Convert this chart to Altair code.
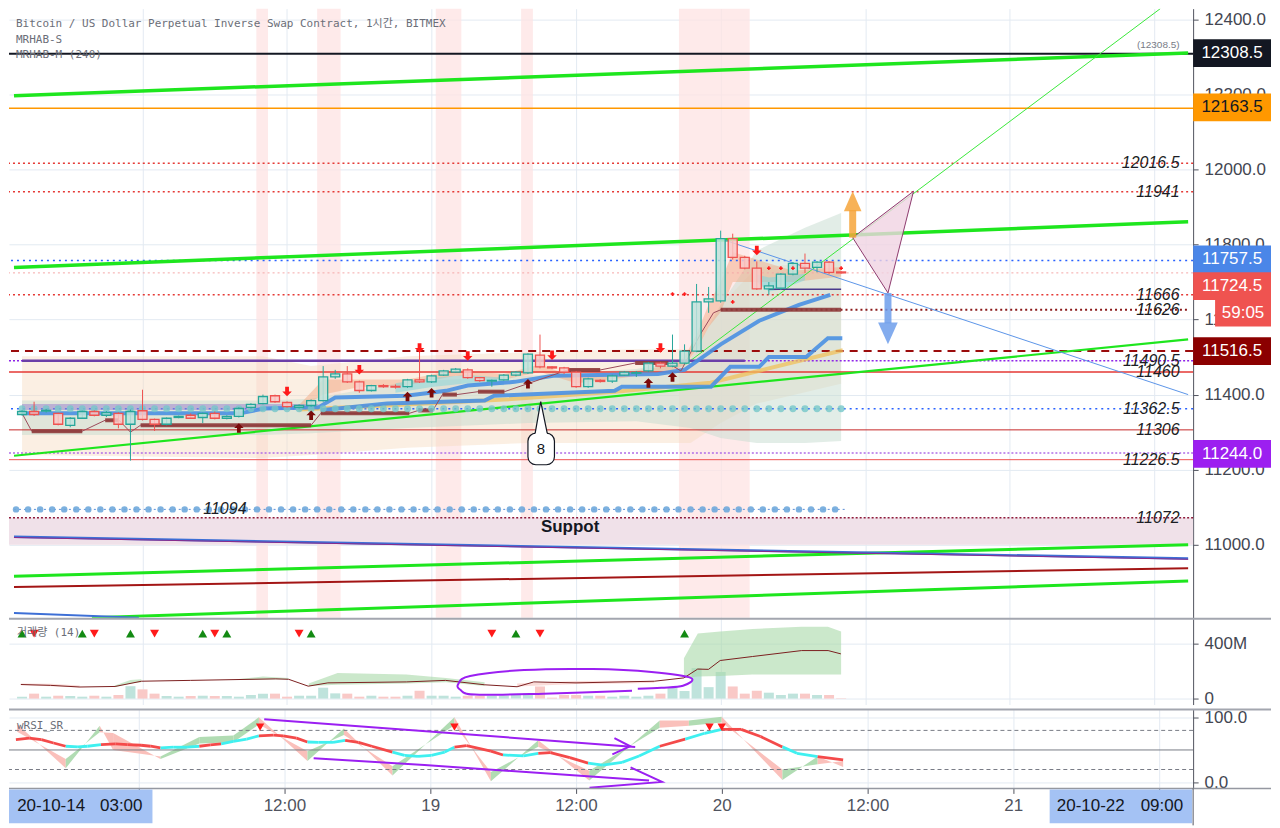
import altair as alt
import pandas as pd

# ---------------- layout ----------------
W = 1186
H_MAIN, H_VOL, H_RSI = 610, 86, 79
TAG_W = 78
T_DOM = [-10.67, 86.81]          # hours since 18 Oct 00:00
P_DOM = [10805.3, 12428.9]
V_DOM = [-43, 579]               # volume in millions
R_DOM = [-9, 112]
XT = [0, 12, 24, 36, 48, 60, 72, 84]

FONT = 'Liberation Sans'
MONO = 'DejaVu Sans Mono, Noto Sans CJK KR'
GRID = '#e3eaf2'
AXC = '#50535e'
TEAL, RED = '#26a69a', '#ef5350'
LIME = '#1ee61e'
PURPLE = '#9b1ff2'
ARROW_UP = 'M0,-1L1,0L0.4,0L0.4,1L-0.4,1L-0.4,0L-1,0Z'
ARROW_DN = 'M0,1L1,0L0.4,0L0.4,-1L-0.4,-1L-0.4,0L-1,0Z'

# ---------------- candles (1h) ----------------
T = list(range(-10, 59))
O = [11347, 11355, 11356, 11350, 11318, 11337, 11355, 11345, 11350, 11321,
     11357, 11334, 11321, 11339, 11345, 11339, 11350, 11337, 11342, 11366,
     11376, 11397, 11379, 11366, 11371, 11384, 11447, 11455, 11434, 11411,
     11424, 11422, 11421, 11439, 11434, 11452, 11460, 11466, 11445, 11436,
     11439, 11452, 11458, 11505, 11474, 11471, 11460, 11421, 11438, 11436,
     11452, 11457, 11463, 11484, 11476, 11484, 11516, 11647, 11650, 11816,
     11766, 11737, 11682, 11684, 11721, 11750, 11739, 11753, 11727]
HI = [11358, 11381, 11362, 11352, 11340, 11357, 11358, 11356, 11353, 11360,
      11413, 11336, 11339, 11344, 11350, 11352, 11355, 11345, 11366, 11377,
      11400, 11400, 11382, 11374, 11387, 11476, 11466, 11476, 11437, 11426,
      11428, 11427, 11442, 11521, 11453, 11466, 11471, 11470, 11447, 11440,
      11455, 11463, 11510, 11560, 11476, 11474, 11463, 11445, 11441, 11453,
      11463, 11463, 11487, 11487, 11560, 11534, 11695, 11687, 11837, 11829,
      11770, 11755, 11700, 11724, 11753, 11776, 11756, 11756, 11729]
LO = [11344, 11343, 11352, 11318, 11313, 11335, 11342, 11340, 11310, 11224,
      11331, 11303, 11318, 11337, 11335, 11324, 11334, 11334, 11339, 11363,
      11374, 11378, 11365, 11363, 11368, 11381, 11442, 11431, 11405, 11408,
      11418, 11416, 11418, 11431, 11431, 11450, 11458, 11442, 11434, 11421,
      11437, 11449, 11455, 11470, 11468, 11455, 11418, 11418, 11432, 11431,
      11450, 11447, 11460, 11470, 11473, 11481, 11513, 11618, 11645, 11760,
      11734, 11679, 11666, 11679, 11718, 11724, 11726, 11721, 11722]
C = [11355, 11347, 11358, 11321, 11337, 11355, 11345, 11352, 11321, 11355,
     11334, 11321, 11337, 11342, 11337, 11350, 11337, 11342, 11363, 11374,
     11395, 11381, 11368, 11371, 11384, 11447, 11455, 11434, 11411, 11424,
     11421, 11420, 11439, 11434, 11450, 11463, 11468, 11445, 11437, 11438,
     11452, 11460, 11508, 11474, 11471, 11460, 11421, 11442, 11435, 11450,
     11460, 11459, 11484, 11476, 11484, 11516, 11647, 11655, 11816, 11766,
     11737, 11682, 11690, 11721, 11750, 11737, 11753, 11726, 11724.5]
VOL = [14, 36, 14, 21, 19, 14, 21, 14, 26, 90,
       67, 36, 19, 14, 19, 21, 19, 19, 14, 26,
       36, 36, 14, 21, 21, 79, 38, 36, 14, 21,
       14, 14, 21, 57, 21, 21, 14, 21, 21, 21,
       21, 26, 38, 88, 7, 26, 26, 21, 21, 14,
       21, 14, 21, 36, 79, 55, 221, 83, 193, 88,
       36, 57, 43, 26, 36, 36, 26, 26, 3]
DIRS = ['up' if c >= o else 'down' for o, c in zip(O, C)]

# ---------------- price levels ----------------
LEVELS = [
    (12308.5, '#131722', 2, None),
    (12163.5, '#ff9800', 1.5, None),
    (12016.5, '#e53935', 1.5, [2, 3]),
    (11941, '#e53935', 1.5, [2, 3]),
    (11757.5, '#2962ff', 1.5, [2, 4]),
    (11724.5, '#f4a6a6', 1, [2, 3]),
    (11666, '#e53935', 1.5, [2, 3]),
    (11516.5, '#9b0c0c', 2, [8, 6]),
    (11490.5, '#8e24e8', 1.5, [2, 2]),
    (11460, '#e53935', 1.5, None),
    (11362.5, '#2962ff', 1.5, [2, 4]),
    (11306, '#c62828', 1, None),
    (11244, '#b06ee8', 1.5, [2, 2]),
    (11226.5, '#ef5350', 1, None),
    (11072, '#8e1a3a', 1.5, [2, 2]),
]
RANGED = [  # price, t0, t1, colour, width, dash
    (11626, 48.0, 86.81, '#8b1a1a', 2, [2, 3]),
    (11094, -10.67, 58.3, '#5b8fd6', 1, [2, 3]),
]
LEVEL_LAB = ['12016.5', '11941', '11666', '11626', '11490.5', '11460',
             '11362.5', '11306', '11226.5', '11072']
LEVEL_LAB_P = [12016.5, 11941, 11666, 11626, 11490.5, 11460,
               11362.5, 11306, 11226.5, 11072]

# trend lines: (t list, price list, colour, width)
SLOPES = [
    ([-10.67, 86.81], [12197, 12310.5], LIME, 3.5),
    ([-10.67, 86.81], [11739, 11860.5], LIME, 3.5),
    ([-10.67, 86.81], [11237, 11547], LIME, 2.2),
    ([45.1, 84.5], [11481, 12428.9], '#3be83b', 1),
    ([-10.67, 86.81], [10916, 11000], LIME, 3),
    ([-4.2, 86.81], [10805.3, 10903], LIME, 3),
    ([-10.67, 86.81], [10887, 10937], '#a31515', 2),
    ([-10.67, 86.81], [11021, 10963], '#3d6fd6', 2.5),
    ([-10.67, 86.81], [11019, 10961], '#8b2a8b', 1),
    ([-10.67, -0.3], [10818, 10805.3], '#3d6fd6', 2),
    ([47.96, 86.81], [11815.7, 11400], '#5b95e8', 1),
]

# shaded bands (hours)
BAND_T0 = [9.45, 14.5, 24.35, 31.43, 44.54]
BAND_T1 = [10.42, 16.45, 26.47, 32.41, 50.41]

# clouds: t, upper, lower, colour, opacity
CLOUDS = [
    ([-10, 10, 14, 22, 32, 41, 45.5, 48, 51, 58],
     [11502, 11502, 11476, 11502, 11513, 11521, 11521, 11639, 11739, 11758],
     [11239, 11231, 11239, 11258, 11271, 11271, 11271, 11324, 11376, 11429],
     '#f6dcc0', 0.45),
    ([-10, 10, 14, 22, 32, 41, 45.5, 48, 51, 55, 58],
     [11384, 11384, 11389, 11434, 11450, 11468, 11495, 11639, 11784, 11845, 11884],
     [11292, 11292, 11297, 11311, 11324, 11329, 11311, 11284, 11271, 11271, 11276],
     '#c5dccf', 0.5),
    ([13, 15, 18, 22, 26, 30, 33, 36, 40, 44, 45, 46, 47, 48, 49, 51, 54, 58],
     [11372, 11440, 11440, 11440, 11466, 11455, 11480, 11445, 11458, 11480, 11500,
      11560, 11640, 11700, 11780, 11760, 11730, 11740],
     [11360, 11400, 11420, 11425, 11450, 11440, 11460, 11430, 11445, 11465, 11478,
      11520, 11580, 11620, 11700, 11700, 11700, 11715],
     '#f2a57c', 0.45),
    ([21, 24, 27, 30], [11430, 11445, 11452, 11445], [11405, 11420, 11430, 11425],
     '#7fd6dc', 0.5),
    ([51, 52, 53, 55], [11720, 11712, 11715, 11722], [11700, 11675, 11680, 11705],
     '#7fd6dc', 0.55),
]

# moving lines
MA_T = [-10.0, 8.1, 10.1, 14.6, 16.0, 21.9, 25.2, 27.0, 30.9, 34.1, 42.8, 45.0,
        48.0, 51.2, 54.5, 57.1]
MA_P = [11350, 11350, 11363, 11366, 11392, 11397, 11410, 11424, 11434, 11450,
        11455, 11466, 11534, 11597, 11639, 11666]
STEP_T = [14.8, 20.3, 28.4, 29.2, 39.2, 39.8, 47.2, 48.8, 51.2, 52.0, 55.1, 56.9, 58.1]
STEP_P = [11358, 11376, 11384, 11397, 11410, 11421, 11421, 11474, 11474, 11500,
          11500, 11550, 11550]
YEL_T = [12.95, 20.3, 30.05, 39.25, 47.15, 58.14]
YEL_P = [11360.5, 11371, 11386.8, 11407.8, 11431.6, 11518.4]
MR_T = [-10, -9.2, -5.0, -3.1, -1.95, -1.0, -0.16, 14.0, 14.8, 22.15, 22.9, 24.1,
        24.9, 26.1, 27.85, 30.05, 35.3, 38.0, 40.9, 43.65, 44.7, 46.3, 47.4, 48.0]
MR_P = [11350, 11302.6, 11302.6, 11331.6, 11331.6, 11300, 11318.4, 11318.4, 11350,
        11350, 11357.8, 11357.8, 11400, 11400, 11407.8, 11407.8, 11465.7, 11465.7,
        11484.2, 11484.2, 11463, 11560, 11618, 11626]
MR_SEG = [(-9.2, -5.0, 11302.6), (-3.1, -1.95, 11331.6), (-0.16, 14.0, 11318.4),
          (14.8, 22.15, 11350), (22.9, 24.1, 11357.8), (24.9, 26.1, 11400),
          (27.85, 30.05, 11407.8), (35.3, 38.0, 11465.7), (40.9, 43.65, 11484.2),
          (48.0, 58.0, 11626)]

UP_T = [8, 14, 22, 24, 32, 42, 44]
UP_P = [11311, 11345, 11395, 11405, 11429, 11431, 11447]
DN_T = [12, 18, 23, 27, 34, 43, 51]
DN_P = [11408, 11466, 11524, 11503, 11505, 11524, 11784]
CR_T = [44, 45, 49, 52, 53, 54, 58]
CR_P = [11668, 11668, 11647, 11737, 11737, 11737, 11737]

TAG_LAB = ['12308.5', '12163.5', '11757.5', '11724.5', '11516.5', '11244.0']
TAG_P = [12310.5, 12165.7, 11760.5, 11689.4, 11515.7, 11242]
TAG_COL = ['#131722', '#ff9800', '#4a86e8', '#ef5350', '#8b0000', '#9c1ff0']
TAG_TXT = ['white', '#131722', 'white', 'white', 'white', 'white']
TAG_HALF = 37

# ---------------- volume panel ----------------
VMA_T = [-10.1, -7.65, -5.2, -2.28, -0.08, 4.0, 11.07, 12.13, 13.76, 15.39, 21.9,
         25.16, 28.42, 31.1, 32.49, 35.99, 42.5, 44.95, 46.09, 46.99, 47.96, 50.65,
         54.72, 56.92, 57.98]
VMA_V = [102, 96, 84, 88, 126, 132, 143, 140, 90, 114, 121, 132, 100, 86, 121, 114,
         126, 150, 214, 212, 276, 305, 348, 348, 324]
VBANDS = [
    ([-2.3, -1, -0.1], [95, 135, 140], [82, 110, 118], '#a8d8a8'),
    ([7.8, 10, 12.1], [140, 160, 150], [135, 138, 140], '#a8d8a8'),
    ([13.8, 16.2, 21.9, 25.2, 28.4], [110, 186, 175, 150, 118], [92, 100, 110, 118, 92], '#a8d8a8'),
    ([44.95, 46.1, 47.96, 50.65, 54.7, 56.9, 58.0], [293, 471, 486, 505, 521, 521, 486],
     [150, 160, 164, 174, 174, 174, 174], '#a8d8a8'),
    ([-10.1, -7.6, -5.2], [110, 108, 95], [98, 90, 80], '#f7c4c0'),
    ([31.1, 35.99, 40, 42.5], [110, 128, 130, 128], [88, 105, 110, 115], '#f7c4c0'),
]
VUP_T = [-10, -5, -1, 5, 7, 14, 31, 45]
VDN_T = [-9, -4, 1, 6, 13, 29, 33]
LOOP_T = [40.64, 33.31, 27.61, 26.38, 26.22, 27.2, 31.68, 37.38, 42.26, 45.52, 44.87,
          43.08, 41.12]
LOOP_V = [57, 36, 29, 64, 107, 164, 207, 214, 193, 150, 93, 79, 71]

# ---------------- RSI panel ----------------
RSI_T = [-10.1, -9.0, -8.0, -7.0, -6.0, -5.0, -4.2, -3.1, -1.9, -0.9, 0.2, 1.0, 1.8,
         2.9, 4.0, 5.0, 5.9, 6.8, 7.8, 8.9, 9.9, 11.1, 11.9, 13.0, 13.9, 14.8, 16.0,
         17.0, 18.1, 19.2, 20.9, 21.9, 23.0, 24.1, 25.2, 26.0, 27.0, 29.0, 30.0,
         31.7, 32.9, 33.9, 35.5, 37.0, 38.2, 39.8, 41.2, 42.9, 45.0, 46.6, 48.0,
         49.6, 51.2, 53.0, 54.2, 55.9, 58.0]
RSI_V = [65.7, 68.2, 65.7, 60.7, 55.7, 54.7, 55.7, 58.2, 59.2, 58.2, 57.2, 55.7, 53.2,
         54.2, 54.2, 55.7, 57.7, 59.2, 63.2, 66.7, 71.6, 72.6, 71.6, 68.2, 62.2, 61.7,
         61.7, 64.7, 61.7, 55.7, 46.8, 41.8, 40.3, 41.8, 46.8, 54.2, 56.7, 48.2, 42.3,
         40.8, 44.8, 45.8, 38.3, 29.9, 26.9, 30.9, 40.8, 55.7, 66.7, 75.6, 81.6, 81.6,
         70.6, 54.7, 44.8, 39.8, 34.8]
RSI_C = 'rrrrcccrrrrrcccrrcccrrrrcccrrrcccccrrrccrrrccccrccrrrccr'
RIB_T = [-10.0, -6.0, -3.2, -2.1, 1.8, 5.0, 7.8, 9.9, 13.9, 16.9, 20.9, 26.0, 29.0,
         32.9, 37.1, 42.9, 45.3, 48.0, 53.0, 55.9, 58.0]
RIB_F = [90, 22, 87, 50, 40, 70, 72, 100, 33, 83, 11, 100, 2, 65, 3, 95, 95, 101, 4, 40, 24]
RIB_S = [78, 36, 77, 76, 36, 60, 62, 89, 48, 73, 25, 88, 16, 55, 18, 84, 87, 92, 20, 28, 33]
RSI_TRI_T = [10, 26, 47, 48]
PEN = [  # hand drawn purple strokes
    ([10.34, 40.88], [97.0, 54.7]),
    ([39.17, 40.47, 39.0], [68.2, 55.7, 43.3]),
    ([14.41, 23.53, 42.02], [37.3, 26.9, 3.0]),
    ([40.5, 43.08, 37.12], [23.4, 1.0, -8.0]),
]


# ---------------- helpers ----------------
AX_GRID = alt.Axis(values=XT, labels=False, ticks=False, domain=False, grid=True,
                   gridColor=GRID, title=None)
AX_TIME = alt.Axis(values=XT, grid=True, gridColor=GRID, domain=False, tickSize=5,
                   tickColor=AXC, labelFontSize=17, labelFont=FONT, labelColor=AXC,
                   labelPadding=4, title=None, labelFlush=False,
                   labelExpr="datum.value == 24 ? '19' : datum.value == 48 ? '20' : "
                             "datum.value == 72 ? '21' : (datum.value == 0 || datum.value == 84) ? '' : '12:00'")


def yaxis(values, **kw):
    return alt.Axis(orient='right', values=values, title=None, grid=True, gridColor=GRID,
                    domainColor=AXC, tickColor=AXC, tickSize=5, labelFont=FONT,
                    labelFontSize=17, labelColor='#434651', labelPadding=6,
                    labelOverlap=False, labelFlush=False, **kw)


AX_P = yaxis([11000 + 200 * k for k in range(8)], format='.1f')
AX_V = yaxis([0, 400], labelExpr="datum.value == 0 ? '0' : '400M'")
AX_R = yaxis([0, 100], format='.1f')


def enc(dom, yax, xax):
    def fx(f):
        return alt.X(f + ':Q', scale=alt.Scale(domain=T_DOM, nice=False, zero=False), axis=xax)

    def fy(f):
        return alt.Y(f + ':Q', scale=alt.Scale(domain=dom, nice=False, zero=False), axis=yax)
    return fx, fy


def line(ts, ps, fx, fy, **kw):
    d = pd.DataFrame({'t': ts, 'p': ps, 'k': range(len(ts))})
    return alt.Chart(d).mark_line(**kw).encode(x=fx('t'), y=fy('p'), order='k:Q')


# ================= main price panel =================
mx, my = enc(P_DOM, AX_P, AX_GRID)
main = []
main.append(alt.Chart(pd.DataFrame({'t0': BAND_T0, 't1': BAND_T1})).mark_rect(
    color='#fde3e3', opacity=0.75).encode(x=mx('t0'), x2='t1', y=alt.value(0), y2=alt.value(H_MAIN)))
main.append(alt.Chart(pd.DataFrame({'lo': [11000], 'hi': [11072]})).mark_rect(
    color='#f0e1e9').encode(x=alt.value(0), x2=alt.value(W), y=my('lo'), y2='hi'))
for ts, up, lo, col, op in CLOUDS:
    main.append(alt.Chart(pd.DataFrame({'t': ts, 'u': up, 'l': lo})).mark_area(
        color=col, opacity=op).encode(x=mx('t'), y=my('u'), y2='l'))
for p, col, w, dash in LEVELS:
    kw = dict(color=col, strokeWidth=w)
    if dash:
        kw['strokeDash'] = dash
    main.append(alt.Chart(pd.DataFrame({'p': [p]})).mark_rule(**kw).encode(y=my('p')))
for p, t0, t1, col, w, dash in RANGED:
    main.append(alt.Chart(pd.DataFrame({'p': [p], 't0': [t0], 't1': [t1]})).mark_rule(
        color=col, strokeWidth=w, strokeDash=dash).encode(x=mx('t0'), x2='t1', y=my('p')))
for ts, ps, col, w in SLOPES:
    main.append(line(ts, ps, mx, my, color=col, strokeWidth=w, clip=True))

# MRHAB lines
main.append(line([-10, 14.6], [11367, 11367], mx, my, color='#9f86d0', strokeWidth=6, opacity=0.55))
main.append(line([-10, 50], [11490.5, 11490.5], mx, my, color='#6b3fa8', strokeWidth=2.5))
main.append(line([52, 58], [11681, 11681], mx, my, color='#4b3a8c', strokeWidth=1.5))
main.append(line(YEL_T, YEL_P, mx, my, color='#f0c05a', strokeWidth=4, opacity=0.75))
main.append(line(STEP_T, STEP_P, mx, my, color='#4a90e2', strokeWidth=4, opacity=0.9))
main.append(line(MA_T, MA_P, mx, my, color='#4a90e2', strokeWidth=4, opacity=0.9))
main.append(line(MR_T, MR_P, mx, my, color='#9c4a5a', strokeWidth=1))
seg = pd.DataFrame(MR_SEG, columns=['t0', 't1', 'p'])
main.append(alt.Chart(seg).mark_rule(color='#8e3a3a', strokeWidth=4, opacity=0.9).encode(
    x=mx('t0'), x2='t1', y=my('p')))

# dot rows
main.append(alt.Chart(pd.DataFrame({'t': T, 'p': 11362.5})).mark_circle(
    size=48, color='#76c7c9', opacity=0.8).encode(x=mx('t'), y=my('p')))
main.append(alt.Chart(pd.DataFrame({'t': [t - 0.5 for t in T], 'p': 11094})).mark_circle(
    size=42, color='#6fa8dc', opacity=0.9).encode(x=mx('t'), y=my('p')))

# candles
cd = pd.DataFrame({'t': T, 'o': O, 'h': HI, 'l': LO, 'c': C, 'd': DIRS})
edge = alt.Scale(domain=['up', 'down'], range=[TEAL, RED])
face = alt.Scale(domain=['up', 'down'], range=['#bfe3dc', '#f9c9c7'])
main.append(alt.Chart(cd).mark_rule(strokeWidth=1).encode(
    x=mx('t'), y=my('l'), y2='h', stroke=alt.Stroke('d:N', scale=edge, legend=None)))
main.append(alt.Chart(cd).mark_bar(width=9, strokeWidth=1.3, fillOpacity=0.85).encode(
    x=mx('t'), y=my('o'), y2='c', fill=alt.Fill('d:N', scale=face, legend=None),
    stroke=alt.Stroke('d:N', scale=edge, legend=None)))

# signal markers
main.append(alt.Chart(pd.DataFrame({'t': UP_T, 'p': UP_P})).mark_point(
    shape=ARROW_UP, filled=True, size=90, color='#7a0a0a', opacity=1).encode(x=mx('t'), y=my('p')))
main.append(alt.Chart(pd.DataFrame({'t': DN_T, 'p': DN_P})).mark_point(
    shape=ARROW_DN, filled=True, size=90, color='#ff1a1a', opacity=1).encode(x=mx('t'), y=my('p')))
main.append(alt.Chart(pd.DataFrame({'t': CR_T, 'p': CR_P})).mark_point(
    shape='cross', filled=True, size=14, color='#ff1a1a', opacity=1).encode(x=mx('t'), y=my('p')))

# projection triangle and arrows
main.append(alt.Chart(pd.DataFrame({'t': [58.96, 61.89, 64.01], 'u': [11818.4, 11890.2, 11942.1],
                                    'l': [11818.4, 11671, 11942.1]})).mark_area(
    color='#f0d3e2', opacity=0.8).encode(x=mx('t'), y=my('u'), y2='l'))
main.append(line([58.96, 64.01, 61.89, 58.96], [11818.4, 11942.1, 11671, 11818.4], mx, my,
                 color='#8e3b6e', strokeWidth=1))
main.append(line([58.96, 58.96], [11818.4, 11892], mx, my, color='#f6a53a', strokeWidth=7, opacity=0.85))
main.append(alt.Chart(pd.DataFrame({'t': [58.23, 58.96, 59.69], 'u': [11889, 11942, 11889],
                                    'l': [11889, 11889, 11889]})).mark_area(
    color='#f6a53a', opacity=0.85).encode(x=mx('t'), y=my('u'), y2='l'))
main.append(line([61.89, 61.89], [11671, 11590], mx, my, color='#6d9eeb', strokeWidth=7, opacity=0.85))
main.append(alt.Chart(pd.DataFrame({'t': [61.07, 61.89, 62.7], 'u': [11592, 11592, 11592],
                                    'l': [11592, 11534, 11592]})).mark_area(
    color='#6d9eeb', opacity=0.85).encode(x=mx('t'), y=my('u'), y2='l'))

# callout "8"
main.append(alt.Chart(pd.DataFrame({'t0': [32.0], 't1': [34.2], 'lo': [11213], 'hi': [11297.3]})).mark_rect(
    fill='white', stroke='#131722', strokeWidth=1.2, cornerRadius=8).encode(
    x=mx('t0'), x2='t1', y=my('lo'), y2='hi'))
main.append(alt.Chart(pd.DataFrame({'t': [32.62, 33.06, 33.58], 'u': [11298, 11381, 11298],
                                    'l': [11294, 11294, 11294]})).mark_area(color='white').encode(
    x=mx('t'), y=my('u'), y2='l'))
main.append(line([32.6, 33.06, 33.6], [11297.3, 11381.5, 11297.3], mx, my, color='#131722', strokeWidth=1.2))
main.append(alt.Chart(pd.DataFrame({'t': [33.08], 'p': [11255], 's': ['8']})).mark_text(
    fontSize=15, font=FONT, color='#131722').encode(x=mx('t'), y=my('p'), text='s:N'))

# text labels
main.append(alt.Chart(pd.DataFrame({'t': 86.1, 'p': LEVEL_LAB_P, 's': LEVEL_LAB})).mark_text(
    align='right', baseline='middle', fontStyle='italic', fontSize=16, font=FONT,
    color='#1b1d24').encode(x=mx('t'), y=my('p'), text='s:N'))
main.append(alt.Chart(pd.DataFrame({'t': [6.84], 'p': [11094], 's': ['11094']})).mark_text(
    baseline='middle', fontStyle='italic', fontSize=16, font=FONT, color='#1b1d24').encode(
    x=mx('t'), y=my('p'), text='s:N'))
main.append(alt.Chart(pd.DataFrame({'t': [86.1], 'p': [12331.5], 's': ['(12308.5)']})).mark_text(
    align='right', baseline='middle', fontSize=10, font=FONT, color='#787b86').encode(
    x=mx('t'), y=my('p'), text='s:N'))
main.append(alt.Chart(pd.DataFrame({'t': [35.5], 'p': [11047], 's': ['Suppot']})).mark_text(
    baseline='middle', fontSize=17, fontWeight='bold', font=FONT, color='#131722').encode(
    x=mx('t'), y=my('p'), text='s:N'))
for yy, txt in [(15, 'Bitcoin / US Dollar Perpetual Inverse Swap Contract, 1시간, BITMEX'),
                (31, 'MRHAB-S'), (46, 'MRHAB-M (240)')]:
    main.append(alt.Chart(pd.DataFrame({'s': [txt]})).mark_text(
        align='left', baseline='middle', fontSize=11, font=MONO, color='#6b6e78').encode(
        x=alt.value(7), y=alt.value(yy), text='s:N'))

# right-hand price tags
tags = pd.DataFrame({'s': TAG_LAB, 'p': TAG_P, 'col': TAG_COL, 'tc': TAG_TXT})
tags['lo'] = tags['p'] - TAG_HALF
tags['hi'] = tags['p'] + TAG_HALF
main.append(alt.Chart(tags).mark_rect().encode(
    x=alt.value(W), x2=alt.value(W + TAG_W), y=my('lo'), y2='hi',
    color=alt.Color('col:N', scale=None)))
main.append(alt.Chart(tags).mark_text(fontSize=17, font=FONT, baseline='middle').encode(
    x=alt.value(W + TAG_W / 2), y=my('p'), text='s:N', color=alt.Color('tc:N', scale=None)))
timer = pd.DataFrame({'s': ['59:05'], 'p': [11618.4]})
timer['lo'] = timer['p'] - TAG_HALF
timer['hi'] = timer['p'] + TAG_HALF
main.append(alt.Chart(timer).mark_rect(color='#ef5350').encode(
    x=alt.value(W + 22), x2=alt.value(W + TAG_W), y=my('lo'), y2='hi'))
main.append(alt.Chart(timer).mark_text(fontSize=17, font=FONT, baseline='middle', color='white').encode(
    x=alt.value(W + 50), y=my('p'), text='s:N'))

main_chart = alt.layer(*main).properties(width=W, height=H_MAIN)

# ================= volume panel =================
vx, vy = enc(V_DOM, AX_V, AX_GRID)
vol = []
vd = pd.DataFrame({'t': T, 'v': VOL, 'z': 0, 'd': DIRS})
vol.append(alt.Chart(vd).mark_bar(width=10).encode(
    x=vx('t'), y=vy('v'), y2='z',
    fill=alt.Fill('d:N', scale=alt.Scale(domain=['up', 'down'], range=['#86cdc3', '#f7b3b1']), legend=None)))
for ts, up, lo, col in VBANDS:
    vol.append(alt.Chart(pd.DataFrame({'t': ts, 'u': up, 'l': lo})).mark_area(
        color=col, opacity=0.6).encode(x=vx('t'), y=vy('u'), y2='l'))
vol.append(line(VMA_T, VMA_V, vx, vy, color='#7b1f1f', strokeWidth=1))
vol.append(line(LOOP_T, LOOP_V, vx, vy, color=PURPLE, strokeWidth=2, interpolate='cardinal'))
vol.append(alt.Chart(pd.DataFrame({'t': VUP_T, 'v': 471})).mark_point(
    shape='triangle-up', filled=True, size=80, color='#138a13', opacity=1).encode(x=vx('t'), y=vy('v')))
vol.append(alt.Chart(pd.DataFrame({'t': VDN_T, 'v': 471})).mark_point(
    shape='triangle-down', filled=True, size=80, color='#ff1a1a', opacity=1).encode(x=vx('t'), y=vy('v')))
vol.append(alt.Chart(pd.DataFrame({'s': ['거래량 (14)']})).mark_text(
    align='left', baseline='middle', fontSize=11, font=MONO, color='#6b6e78').encode(
    x=alt.value(8), y=alt.value(14), text='s:N'))
vol.append(alt.Chart(pd.DataFrame({'s': ['a']})).mark_rule(color='#a3a6af', strokeWidth=2).encode(
    x=alt.value(0), x2=alt.value(W + TAG_W), y=alt.value(0)))
vol_chart = alt.layer(*vol).properties(width=W, height=H_VOL)

# ================= RSI panel =================
rx, ry = enc(R_DOM, AX_R, AX_TIME)
rsi = []
rib = []
for k in range(len(RIB_T) - 1):
    col = '#a9d8ab' if RIB_F[k + 1] > RIB_F[k] else '#f9b9b4'
    for j in (k, k + 1):
        rib.append({'seg': k, 't': RIB_T[j], 'f': RIB_F[j], 's': RIB_S[j], 'col': col})
rsi.append(alt.Chart(pd.DataFrame(rib)).mark_area(opacity=0.9).encode(
    x=rx('t'), y=ry('f'), y2='s', color=alt.Color('col:N', scale=None), detail='seg:N'))
for lvl, dash in [(80, [4, 3]), (50, None), (20, [4, 3])]:
    kw = dict(color='#787b86', strokeWidth=1)
    if dash:
        kw['strokeDash'] = dash
    rsi.append(alt.Chart(pd.DataFrame({'v': [lvl]})).mark_rule(**kw).encode(y=ry('v')))
rl = []
for k in range(len(RSI_T) - 1):
    col = '#f44a4a' if RSI_C[k] == 'r' else '#3ff0f0'
    for j in (k, k + 1):
        rl.append({'seg': k, 't': RSI_T[j], 'v': RSI_V[j], 'col': col})
rsi.append(alt.Chart(pd.DataFrame(rl)).mark_line(strokeWidth=2.8).encode(
    x=rx('t'), y=ry('v'), color=alt.Color('col:N', scale=None), detail='seg:N'))
rsi.append(alt.Chart(pd.DataFrame({'t': RSI_TRI_T, 'v': 85})).mark_point(
    shape='triangle-down', filled=True, size=70, color='#ff1a1a', opacity=1).encode(x=rx('t'), y=ry('v')))
for ts, vs in PEN:
    rsi.append(line(ts, vs, rx, ry, color=PURPLE, strokeWidth=2, clip=True))
rsi.append(alt.Chart(pd.DataFrame({'s': ['wRSI_SR']})).mark_text(
    align='left', baseline='middle', fontSize=11, font=MONO, color='#6b6e78').encode(
    x=alt.value(8), y=alt.value(16), text='s:N'))
rsi.append(alt.Chart(pd.DataFrame({'s': ['a']})).mark_rule(color='#a3a6af', strokeWidth=2).encode(
    x=alt.value(0), x2=alt.value(W + TAG_W), y=alt.value(0)))
rsi.append(alt.Chart(pd.DataFrame({'s': ['a']})).mark_rule(color='#9598a1', strokeWidth=1.5).encode(
    x=alt.value(0), x2=alt.value(W + TAG_W), y=alt.value(H_RSI)))
rsi.append(alt.Chart(pd.DataFrame({'s': ['a']})).mark_rule(color=AXC, strokeWidth=1).encode(
    x=alt.value(W), y=alt.value(H_RSI), y2=alt.value(H_RSI + 37)))
# time range boxes under the axis
boxes = pd.DataFrame({'t0': [-10.67, 75.0], 't1': [1.14, 86.73]})
rsi.append(alt.Chart(boxes).mark_rect(color='#a4c2f4').encode(
    x=rx('t0'), x2='t1', y=alt.value(H_RSI + 1), y2=alt.value(H_RSI + 35)))
blab = pd.DataFrame({'t': [-7.2, -1.43, 78.38, 84.24], 's': ['20-10-14', '03:00', '20-10-22', '09:00']})
rsi.append(alt.Chart(blab).mark_text(fontSize=17, font=FONT, color='#131722', baseline='middle').encode(
    x=rx('t'), y=alt.value(H_RSI + 18), text='s:N'))
rsi_chart = alt.layer(*rsi).properties(width=W, height=H_RSI)

chart = alt.vconcat(main_chart, vol_chart, rsi_chart, spacing=0).properties(
    padding=0, background='white'
).configure_view(stroke=None)

chart.save("out.html", embed_options={"renderer": "svg", "actions": False})
